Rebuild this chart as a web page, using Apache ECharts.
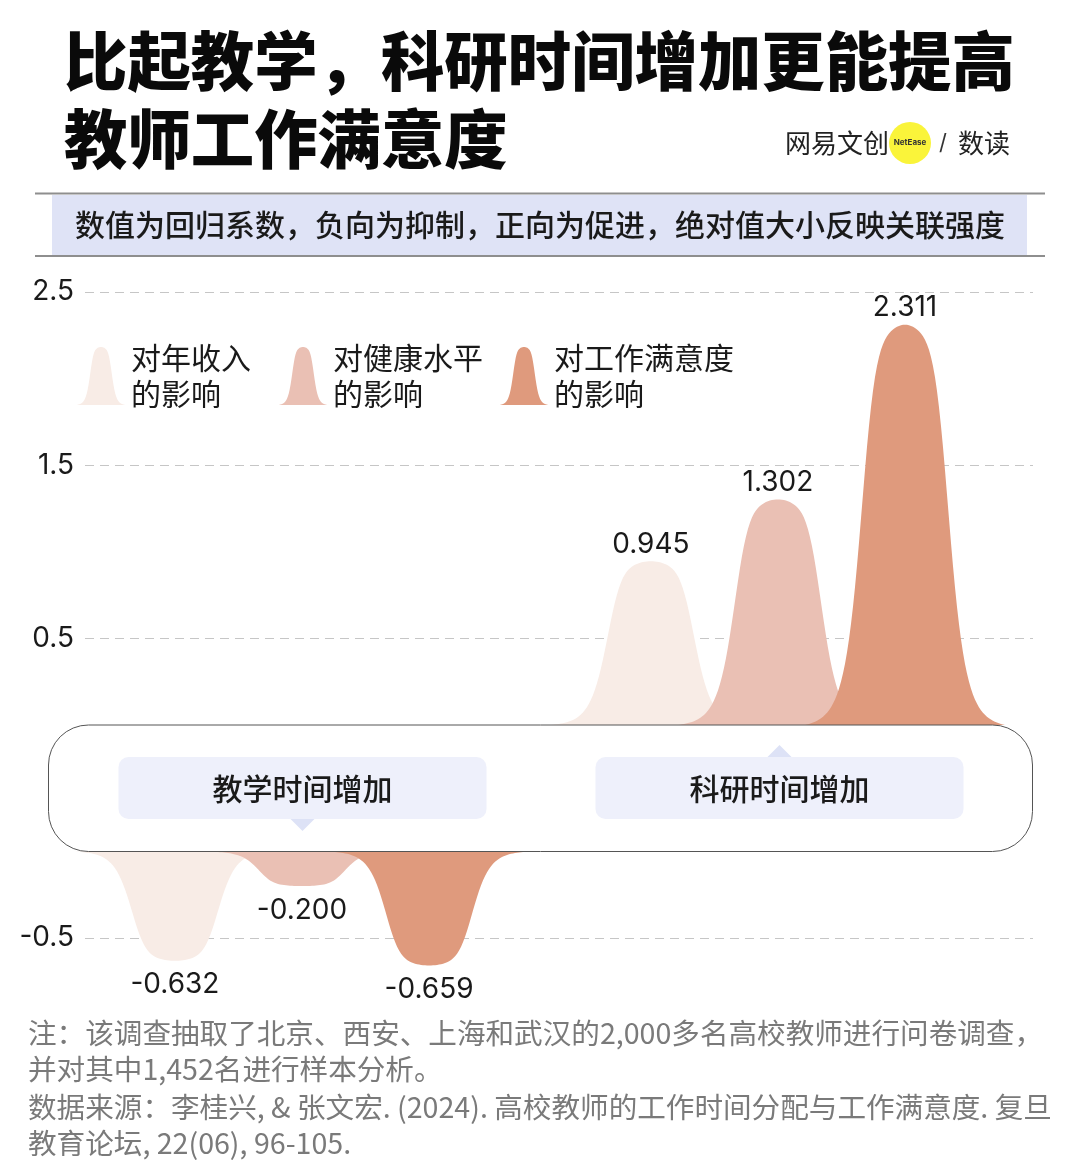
<!DOCTYPE html>
<html>
<head>
<meta charset="utf-8">
<script src="https://cdn.jsdelivr.net/npm/echarts@6.0.0/dist/echarts.min.js"></script>
<style>
html,body{margin:0;padding:0;background:#fff;}
#chart{width:1080px;height:1174px;}
</style>
</head>
<body>
<div id="chart"></div>
<script>
// ---------- data ----------
const groups = ['教学时间增加', '科研时间增加'];
const seriesNames = ['对年收入的影响', '对健康水平的影响', '对工作满意度的影响'];
const legendLabels = ['对年收入\n的影响', '对健康水平\n的影响', '对工作满意度\n的影响'];
const incomeEffect = [-0.632, 0.945];
const healthEffect = [-0.200, 1.302];
const satisfactionEffect = [-0.659, 2.311];
const positiveTicks = [0.5, 1.5, 2.5];
const negativeTicks = [-0.5];
const titleLines = ['比起教学，科研时间增加更能提高', '教师工作满意度'];
const subtitle = '数值为回归系数，负向为抑制，正向为促进，绝对值大小反映关联强度';
const notes = [
  '注：该调查抽取了北京、西安、上海和武汉的2,000多名高校教师进行问卷调查，',
  '并对其中1,452名进行样本分析。',
  '数据来源：李桂兴, & 张文宏. (2024). 高校教师的工作时间分配与工作满意度. 复旦',
  '教育论坛, 22(06), 96-105.'
];

// ---------- style ----------
const colors = ['#f8ece6', '#eac0b4', '#df9a7d'];
const offsets = [-0.267, 0, 0.267];
const W_FRAC = 0.21, N = 100;
const CJK = '"Noto Sans CJK SC", "Noto Sans", sans-serif';
const NUM = 'Inter, "Noto Sans", sans-serif';

function gRaw(t) { return 1 / (1 + 0.8 * t * t + Math.pow(Math.abs(t) / 0.46, 6)); }
function gn(t) {
  const g1 = gRaw(1);
  return Math.max(0, (gRaw(t) - g1) / (1 - g1));
}
function bellIcon(w, h) {
  let d = 'path://M0,' + h;
  for (let i = 0; i <= 60; i++) {
    const t = -1 + 2 * i / 60;
    const x = (t + 1) / 2 * w;
    const y = h - h * gn(t);
    d += ' L' + x.toFixed(2) + ',' + y.toFixed(2);
  }
  return d + ' Z';
}

function makeRender(idx) {
  return function (params, api) {
    const gx = api.value(0) + offsets[idx];
    const v = api.value(1);
    const base = api.coord([gx, 0]);
    const peak = api.coord([gx, v]);
    const unit = api.size([1, 0])[0];
    const W = unit * W_FRAC;
    const pts = [];
    for (let i = 0; i <= N; i++) {
      const t = -1 + 2 * i / N;
      pts.push([base[0] + t * W, base[1] + (peak[1] - base[1]) * gn(t)]);
    }
    return {
      type: 'group',
      children: [
        { type: 'polygon', shape: { points: pts }, style: { fill: colors[idx] } },
        { type: 'text', z2: 10, style: {
            text: v.toFixed(3), x: peak[0], y: v >= 0 ? peak[1] - 17 : peak[1] + 24,
            align: 'center', verticalAlign: 'middle',
            fontSize: 28, fontFamily: NUM, fill: '#1a1a1a' } }
      ]
    };
  };
}

const allValues = [incomeEffect, healthEffect, satisfactionEffect];
const series = [];
allValues.forEach((vals, idx) => {
  const pos = [], neg = [];
  vals.forEach((v, g) => { (v >= 0 ? pos : neg).push([g, v]); });
  [[pos, 0], [neg, 1]].forEach(([d, gi]) => {
    series.push({
      type: 'custom', name: seriesNames[idx],
      xAxisIndex: gi, yAxisIndex: gi,
      color: colors[idx], itemStyle: { color: colors[idx] },
      renderItem: makeRender(idx), data: d, clip: false, silent: true
    });
  });
});

const axisLabelStyle = { fontSize: 28, fontFamily: NUM, color: '#1a1a1a', margin: 11, padding: [4, 0, 0, 0] };
const splitStyle = { show: true, lineStyle: { color: '#c6c6c6', type: [9, 6], width: 1.2 } };
const xMin = -0.456, xMax = 1.536;

const legendLefts = [71, 273, 494];
const legends = seriesNames.map((n, i) => ({
  left: legendLefts[i], top: 335, orient: 'horizontal',
  data: [n], selectedMode: false,
  icon: bellIcon(50, 58), itemWidth: 50, itemHeight: 58,
  formatter: () => legendLabels[i],
  textStyle: { fontSize: 30, lineHeight: 36, color: '#1a1a1a', fontFamily: CJK }
}));

const graphics = [];
// title
titleLines.forEach((t, i) => graphics.push({
  type: 'text', left: 64, top: 29 + i * 78, z: 50,
  style: { text: t, fontSize: 63.4, fontWeight: 900, fontFamily: CJK, fill: '#0a0a0a' }
}));
// logo
graphics.push({ type: 'circle', shape: { cx: 910, cy: 143, r: 21 }, style: { fill: '#faf43a' }, z: 50 });
graphics.push({ type: 'text', z: 51, style: { text: '网易文创', x: 785, y: 143, verticalAlign: 'middle', fontSize: 26, fontFamily: CJK, fill: '#222' } });
graphics.push({ type: 'text', z: 52, style: { text: 'NetEase', x: 910, y: 143, align: 'center', verticalAlign: 'middle', fontSize: 8, fontWeight: 'bold', fontFamily: NUM, fill: '#333' } });
graphics.push({ type: 'text', z: 51, style: { text: '/', x: 943, y: 143, align: 'center', verticalAlign: 'middle', fontSize: 22, fontFamily: NUM, fill: '#333' } });
graphics.push({ type: 'text', z: 51, style: { text: '数读', x: 958, y: 143, verticalAlign: 'middle', fontSize: 26, fontFamily: CJK, fill: '#222' } });
// subtitle banner
graphics.push({ type: 'rect', z: 40, shape: { x: 52, y: 195, width: 975, height: 60 }, style: { fill: '#dfe3f6' } });
graphics.push({ type: 'line', z: 41, shape: { x1: 35, y1: 193.5, x2: 1045, y2: 193.5 }, style: { stroke: '#8e8e8e', lineWidth: 2 } });
graphics.push({ type: 'line', z: 41, shape: { x1: 35, y1: 256, x2: 1045, y2: 256 }, style: { stroke: '#8e8e8e', lineWidth: 2 } });
graphics.push({ type: 'text', z: 42, style: { text: subtitle, x: 540, y: 225, align: 'center', verticalAlign: 'middle', fontSize: 30, fontWeight: 500, fontFamily: CJK, fill: '#1a1a1a' } });
// group box
graphics.push({ type: 'rect', z: 100, shape: { x: 48.5, y: 725, width: 984, height: 126.5, r: 40 }, style: { fill: '#fff', stroke: '#555', lineWidth: 1 } });
const boxCenters = [302.5, 779.5];
groups.forEach((g, i) => {
  const cx = boxCenters[i];
  graphics.push({ type: 'rect', z: 101, shape: { x: cx - 184, y: 757, width: 368, height: 62, r: 10 }, style: { fill: '#eef0fb' } });
  graphics.push({ type: 'text', z: 102, style: { text: g, x: cx, y: 789, align: 'center', verticalAlign: 'middle', fontSize: 30, fontWeight: 500, fontFamily: CJK, fill: '#1a1a1a' } });
});
graphics.push({ type: 'polygon', z: 101, shape: { points: [[boxCenters[0] - 12, 819], [boxCenters[0] + 12, 819], [boxCenters[0], 831]] }, style: { fill: '#dde2f6' } });
graphics.push({ type: 'polygon', z: 101, shape: { points: [[boxCenters[1] - 12, 757], [boxCenters[1] + 12, 757], [boxCenters[1], 745]] }, style: { fill: '#dde2f6' } });
// notes
const noteY = [1033, 1069, 1107, 1143];
notes.forEach((t, i) => graphics.push({
  type: 'text', z: 50, style: { text: t, x: 28, y: noteY[i], verticalAlign: 'middle', fontSize: 28.6, fontFamily: CJK, fill: '#7a7a7a' }
}));

const chart = echarts.init(document.getElementById('chart'), null, { renderer: 'canvas' });
chart.setOption({
  animation: false,
  backgroundColor: '#fff',
  legend: legends,
  grid: [
    { left: 85, right: 47, top: 292, bottom: 362.5 },
    { left: 85, right: 47, top: 851.5, bottom: 149.5 }
  ],
  xAxis: [
    { type: 'value', gridIndex: 0, min: xMin, max: xMax, show: false },
    { type: 'value', gridIndex: 1, min: xMin, max: xMax, show: false }
  ],
  yAxis: [
    { type: 'value', gridIndex: 0, min: -0.5, max: 2.5, interval: 1,
      axisLine: { show: false }, axisTick: { show: false },
      axisLabel: Object.assign({ showMinLabel: false,
        formatter: v => positiveTicks.indexOf(v) >= 0 ? String(v) : '' }, axisLabelStyle),
      splitLine: Object.assign({ showMinLine: false }, splitStyle) },
    { type: 'value', gridIndex: 1, min: -1, max: 0, interval: 0.5,
      axisLine: { show: false }, axisTick: { show: false },
      axisLabel: Object.assign({ showMinLabel: false, showMaxLabel: false,
        formatter: v => negativeTicks.indexOf(v) >= 0 ? String(v) : '' }, axisLabelStyle),
      splitLine: Object.assign({ showMinLine: false, showMaxLine: false }, splitStyle) }
  ],
  graphic: graphics,
  series: series
});
</script>
</body>
</html>
